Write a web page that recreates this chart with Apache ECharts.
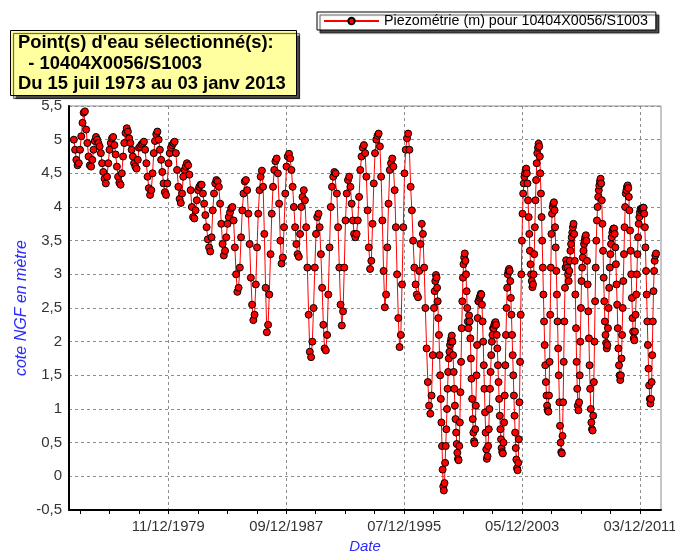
<!DOCTYPE html>
<html><head><meta charset="utf-8">
<script src="https://cdn.jsdelivr.net/npm/echarts@6/dist/echarts.min.js"></script>
<style>html,body{margin:0;padding:0;background:#fff}#c{width:675px;height:552px}</style>
</head><body><div id="c"></div>
<script>
// ---------- DATA ----------
// Monthly readings (15th of each month), Jul 1973 -> Dec 1997
const monthlyStart = [1973, 7];
const levels1973_1979 = [
  5.00,4.85,4.70,4.62,4.65,4.85,
  5.05,5.25,5.40,5.42,5.15,4.95,4.75,4.62,4.60,4.70,4.85,4.98,
  5.04,5.00,4.95,4.90,4.80,4.65,4.52,4.42,4.35,4.45,4.65,4.85,
  4.95,5.02,5.04,4.92,4.78,4.60,4.45,4.36,4.33,4.50,4.75,4.95,
  5.10,5.17,5.12,5.02,4.95,4.85,4.75,4.65,4.60,4.57,4.70,4.88,
  4.90,4.93,4.95,4.97,4.85,4.65,4.45,4.28,4.18,4.25,4.50,4.80,
  4.98,5.08,5.12,5.00,4.85,4.70,4.52,4.35,4.22,4.18,4.35,4.65
];
const levels1980_1989 = [
  4.80,4.88,4.92,4.95,4.97,4.80,4.55,4.30,4.12,4.06,4.20,4.45,
  4.55,4.60,4.65,4.62,4.48,4.25,4.00,3.85,3.83,3.95,4.10,4.25,
  4.30,4.33,4.33,4.20,4.05,3.88,3.70,3.52,3.40,3.34,3.55,3.95,
  4.20,4.35,4.40,4.38,4.30,4.05,3.75,3.45,3.28,3.35,3.55,3.75,
  3.85,3.92,3.98,4.00,3.80,3.40,3.00,2.74,2.80,3.10,3.55,3.95,
  4.20,4.38,4.40,4.25,3.90,3.45,2.95,2.55,2.32,2.40,2.85,3.40,
  3.90,4.25,4.45,4.54,4.30,3.60,2.80,2.14,2.25,2.70,3.30,3.90,
  4.30,4.55,4.68,4.72,4.50,4.05,3.50,3.16,3.25,3.70,4.20,4.60,
  4.75,4.79,4.72,4.55,4.30,4.00,3.70,3.45,3.30,3.26,3.60,4.00,
  4.15,4.25,4.10,3.70,3.10,2.40,1.85,1.77,2.00,2.50,3.10,3.60
];
const levels1990_1997 = [
  3.85,3.90,3.70,3.30,2.80,2.25,1.90,1.87,2.10,2.70,3.40,4.00,
  4.30,4.45,4.52,4.50,4.20,3.70,3.10,2.55,2.24,2.45,3.10,3.80,
  4.20,4.40,4.45,4.30,4.05,3.80,3.60,3.55,3.60,3.80,4.15,4.55,
  4.75,4.88,4.92,4.80,4.45,3.95,3.40,3.08,3.20,3.75,4.35,4.80,
  5.00,5.06,5.09,4.90,4.45,3.80,3.05,2.51,2.70,3.40,4.05,4.55,
  4.65,4.72,4.60,4.25,3.70,3.00,2.35,1.92,2.10,2.85,3.70,4.50,
  4.85,5.02,5.09,4.85,4.30,3.95,3.50,3.10,2.85,2.70,2.66,3.05,
  3.45,3.75,3.60,3.10,2.50,1.90,1.40,1.05,0.93,1.20,1.80,2.50
];
// Twice-monthly readings (1st and 16th), Jan 1998 -> Dec 2012
const semiMonthlyStartYear = 1998;
const levels1998_2005 = [
  2.75,2.90,2.99,2.95,2.80,2.60,2.35,2.10,1.80,1.50,1.15,0.80,0.45,0.10,-0.15,-0.21,-0.10,0.20,0.45,0.70,1.00,1.30,1.55,1.75,
  1.85,1.95,2.00,2.05,2.09,2.00,1.80,1.55,1.30,1.05,0.85,0.65,0.48,0.35,0.26,0.24,0.45,0.80,1.25,1.70,2.20,2.60,2.95,3.15,
  3.25,3.31,3.20,3.00,2.75,2.50,2.30,2.20,2.39,2.30,2.05,1.75,1.45,1.15,0.85,0.65,0.52,0.49,0.70,1.05,1.50,1.95,2.35,2.60,
  2.60,2.65,2.68,2.71,2.70,2.55,2.30,2.00,1.65,1.30,0.95,0.65,0.40,0.26,0.30,0.45,0.70,1.00,1.30,1.55,1.80,2.00,2.10,2.20,
  2.20,2.25,2.28,2.29,2.25,2.10,1.90,1.65,1.40,1.15,0.90,0.70,0.55,0.42,0.36,0.34,0.50,0.80,1.20,1.65,2.10,2.50,2.80,3.00,
  3.05,3.08,3.05,2.90,2.65,2.40,2.10,1.80,1.50,1.20,0.90,0.65,0.42,0.25,0.12,0.09,0.20,0.55,1.10,1.70,2.40,3.00,3.50,3.90,
  4.20,4.35,4.45,4.50,4.55,4.57,4.50,4.35,4.10,3.85,3.60,3.35,3.15,3.00,2.90,2.81,2.85,3.00,3.30,3.70,4.10,4.40,4.65,4.80,
  4.88,4.94,4.90,4.75,4.50,4.20,3.85,3.50,3.10,2.70,2.30,1.95,1.65,1.40,1.20,1.05,0.98,0.96,1.20,1.70,2.40,3.10,3.60,3.90
];
const levels2006_2012 = [
  4.00,4.05,4.07,3.95,3.70,3.40,3.05,2.70,2.30,1.90,1.50,1.10,0.75,0.50,0.36,0.34,0.60,1.10,1.70,2.30,2.80,3.10,3.21,3.15,
  3.10,3.00,2.90,3.05,3.20,3.35,3.45,3.55,3.62,3.70,3.75,3.60,3.20,2.70,2.20,1.70,1.30,1.05,0.98,1.10,1.50,2.00,2.50,2.90,
  3.10,3.25,3.35,3.45,3.50,3.55,3.58,3.50,3.20,2.85,2.45,2.05,1.65,1.30,1.00,0.80,0.70,0.68,0.90,1.40,2.00,2.60,3.10,3.50,
  3.80,4.00,4.15,4.25,4.32,4.38,4.42,4.35,4.10,3.75,3.35,2.95,2.60,2.30,2.10,1.98,1.90,1.95,2.20,2.50,2.80,3.10,3.30,3.45,
  3.55,3.62,3.66,3.68,3.68,3.60,3.40,3.15,2.85,2.55,2.20,1.90,1.65,1.50,1.43,1.50,1.75,2.10,2.50,2.90,3.30,3.70,4.00,4.20,
  4.25,4.30,4.32,4.28,4.15,3.95,3.65,3.35,3.00,2.65,2.35,2.15,2.05,2.02,2.15,2.40,2.70,3.00,3.30,3.55,3.75,3.85,3.92,3.97,
  3.95,3.97,3.98,3.99,3.99,3.90,3.70,3.40,3.05,2.70,2.30,1.95,1.60,1.35,1.15,1.08,1.15,1.40,1.80,2.30,2.75,3.05,3.20,3.28
];
const lastReading = ['2013-01-03', 3.31];
// Date-axis tick labels (every 2920 days)
const xTickLabels = ['11/12/1979', '09/12/1987', '07/12/1995', '05/12/2003', '03/12/2011'];

// ---------- helpers ----------
const DAY = 86400000, EPOCH = Date.UTC(1899, 11, 30);
const serial = (y, m, d) => Math.round((Date.UTC(y, m - 1, d) - EPOCH) / DAY);
const pad = n => (n < 10 ? '0' : '') + n;
const fmt = v => { const t = new Date(EPOCH + v * DAY); return pad(t.getUTCDate()) + '/' + pad(t.getUTCMonth() + 1) + '/' + t.getUTCFullYear(); };
const parseLabel = s => { const p = s.split('/').map(Number); return serial(p[2], p[1], p[0]); };

const data = [];
levels1973_1979.concat(levels1980_1989, levels1990_1997).forEach((v, i) => {
  const k = monthlyStart[1] - 1 + i;
  data.push([serial(monthlyStart[0] + Math.floor(k / 12), (k % 12) + 1, 15), v]);
});
levels1998_2005.concat(levels2006_2012).forEach((v, i) => {
  const y = semiMonthlyStartYear + Math.floor(i / 24), m = Math.floor((i % 24) / 2) + 1, d = i % 2 ? 16 : 1;
  data.push([serial(y, m, d), v]);
});
{ const p = lastReading[0].split('-').map(Number); data.push([serial(p[0], p[1], p[2]), lastReading[1]]); }

const X_MIN = 26740, X_MAX = 41400;
const majorTicks = xTickLabels.map(parseLabel);
const minorTicks = [];
for (let t = Math.ceil(X_MIN / 730) * 730; t <= X_MAX; t += 730) minorTicks.push(t);

const chart = echarts.init(document.getElementById('c'), null, { renderer: 'canvas' });
chart.setOption({
  animation: false,
  backgroundColor: '#fff',
  textStyle: { fontFamily: 'Liberation Sans, Arial, sans-serif' },
  title: {
    text: "Point(s) d'eau sélectionné(s):\n  - 10404X0056/S1003\nDu 15 juil 1973 au 03 janv 2013",
    left: 10, top: 30,
    padding: [3, 11, 1, 8],
    backgroundColor: '#ffffa0', borderColor: '#000', borderWidth: 1,
    shadowColor: 'rgba(0,0,0,0.7)', shadowOffsetX: 3, shadowOffsetY: 3, shadowBlur: 1,
    textStyle: { fontWeight: 'bold', fontSize: 18.4, lineHeight: 20.5, color: '#000' }
  },
  legend: {
    left: 317, top: 12,
    padding: [2, 8, 2, 6],
    backgroundColor: '#fff', borderColor: '#000', borderWidth: 1,
    shadowColor: 'rgba(0,0,0,0.7)', shadowOffsetX: 3, shadowOffsetY: 3, shadowBlur: 1,
    itemWidth: 55, itemHeight: 8,
    textStyle: { fontSize: 14.3, color: '#000' }
  },
  grid: { left: 69, right: 14, top: 106, bottom: 42, outerBoundsMode: 'none', containLabel: false,
          show: true, borderColor: '#8c8c8c', borderWidth: 1, backgroundColor: '#fff' },
  xAxis: [{
    type: 'value', min: X_MIN, max: X_MAX, position: 'bottom',
    name: 'Date', nameLocation: 'middle', nameGap: 25.5,
    nameTextStyle: { color: '#2b2bff', fontStyle: 'italic', fontSize: 15 },
    axisLine: { show: true, onZero: false, lineStyle: { color: '#000', width: 2 } },
    axisTick: { show: false, customValues: majorTicks },
    axisLabel: { customValues: majorTicks, formatter: fmt, fontSize: 14.8, color: '#333', margin: 9 },
    splitLine: { show: true, lineStyle: { color: '#8c8c8c', type: [3, 3], width: 1 } }
  }, {
    type: 'value', min: X_MIN, max: X_MAX, position: 'bottom',
    axisLine: { show: false, onZero: false },
    axisTick: { show: true, customValues: minorTicks, length: 4, lineStyle: { color: '#000', width: 1 } },
    axisLabel: { show: false },
    splitLine: { show: false }
  }],
  yAxis: {
    type: 'value', min: -0.5, max: 5.5, interval: 0.5,
    name: 'cote NGF en mètre', nameLocation: 'middle', nameGap: 39, nameMoveOverlap: false,
    nameTextStyle: { color: '#2b2bff', fontStyle: 'italic', fontSize: 16 },
    axisLine: { show: true, onZero: false, lineStyle: { color: '#000', width: 2 } },
    axisTick: { show: false },
    axisLabel: { formatter: v => String(v).replace('.', ','), fontSize: 15, color: '#333', margin: 7 },
    splitLine: { show: true, lineStyle: { color: '#8c8c8c', type: [3, 3], width: 1 } }
  },
  series: [{
    name: 'Piezométrie (m) pour 10404X0056/S1003',
    type: 'line', xAxisIndex: 0, data: data,
    symbol: 'circle', symbolSize: 7, showSymbol: true, showAllSymbol: true,
    lineStyle: { color: '#ff0000', width: 1 },
    itemStyle: { color: '#ff0000', borderColor: '#000', borderWidth: 1 }
  }]
});
</script></body></html>
